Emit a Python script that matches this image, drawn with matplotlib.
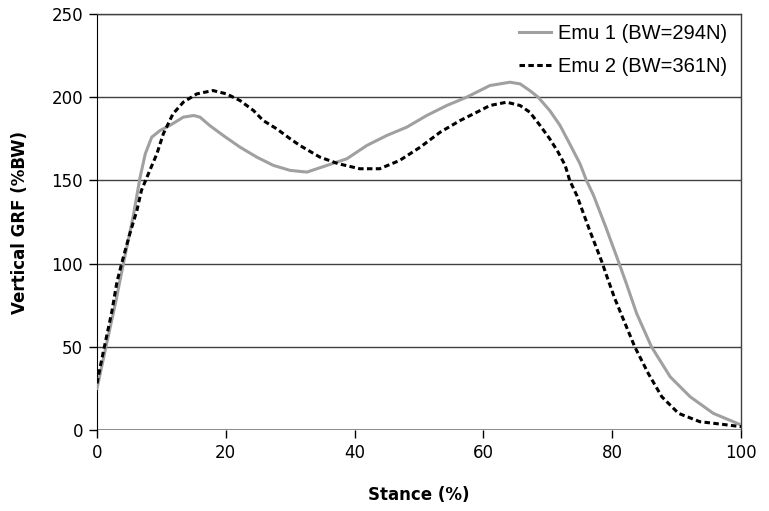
import matplotlib
matplotlib.use("Agg")
from matplotlib import pyplot as plt

# Emu 1 (BW=294N) - solid grey
emu1_x = [0, 1.5, 2.8, 4.1, 5.6, 6.7, 7.5, 8.5, 9.8, 11.3, 13.4, 15, 16, 17.5,
          19.6, 22.2, 24.8, 27.4, 30, 32.6, 35.7, 38.8, 41.9, 45, 48.1, 51.2,
          54.3, 57.4, 61, 64.1, 65.7, 67.2, 68.5, 70.3, 71.9, 73.4, 75, 76,
          77.1, 79, 80.9, 82.2, 83.8, 86.1, 89, 92.1, 95.7, 98.8, 100]
emu1_y = [25, 52, 75, 100, 128, 152, 166, 176, 180, 183, 188, 189, 188, 183,
          177, 170, 164, 159, 156, 155, 159, 163, 171, 177, 182, 189,
          195, 200, 207, 209, 208, 204, 200, 192, 183, 172, 160, 150,
          141, 122, 102, 88, 70, 50, 32, 20, 10, 5, 3]

# Emu 2 (BW=361N) - black dashed
emu2_x = [0, 0.5, 1.2, 2.3, 3.1, 4.1, 5.1, 6.2, 6.9, 8.2, 9.3, 10.3, 11.8, 13.4,
          15.5, 18, 20.1, 22.2, 24.3, 25.8, 27.9, 30, 31.5, 34.6, 37.5, 40.8,
          43.9, 47, 50.2, 53.3, 56.4, 59.5, 61, 63.6, 65.7, 67.2, 68.8, 70.3,
          71.6, 72.7, 73.4, 74.5, 76.5, 78.4, 79.2, 80.4, 82, 83.5, 85.6, 87.7,
          90.3, 93.6, 96.7, 100]
emu2_y = [28, 38, 51, 71, 89, 104, 118, 132, 144, 156, 166, 178, 190, 197,
          202, 204, 202, 198, 192, 186, 181, 175, 171, 164, 160, 157,
          157, 162, 170, 179, 186, 192, 195, 197, 195, 191, 183, 175,
          167, 159, 150, 141, 120, 101, 92, 79, 64, 50, 34, 20,
          10, 5, 3.6, 2]

x_ticks = [0, 20, 40, 60, 80, 100]
y_ticks = [0, 50, 100, 150, 200, 250]

plt.rcParams["font.family"] = "DejaVu Sans"

fig = plt.figure(figsize=(7.69, 5.11), dpi=100)
ax = fig.add_axes([97 / 769, 1 - 430 / 511, 644 / 769, 416 / 511])

for yv in y_ticks[1:]:
    ax.axhline(yv, color="#404040", lw=1.0, zorder=1)
ax.axhline(0, color="#808080", lw=2.0, zorder=1)

ax.plot(emu1_x, emu1_y, color="#a0a0a0", lw=2.2, label="Emu 1 (BW=294N)", zorder=3)
ax.plot(emu2_x, emu2_y, color="black", lw=2.2, linestyle=(0, (1.8, 1.1)),
        label="Emu 2 (BW=361N)", zorder=4)

ax.set_xlim(0, 100)
ax.set_ylim(0, 250)
ax.set_xticks(x_ticks)
ax.set_yticks(y_ticks)
ax.tick_params(labelsize=12, length=6, width=1, colors="black", pad=4)

for s in ["top", "right"]:
    ax.spines[s].set_color("#404040")
    ax.spines[s].set_linewidth(1.0)
ax.spines["left"].set_color("black")
ax.spines["bottom"].set_visible(False)

ax.set_xlabel("Stance (%)", fontsize=12, fontweight="bold", labelpad=17)
ax.set_ylabel("Vertical GRF (%BW)", fontsize=12, fontweight="bold", labelpad=16)

leg = ax.legend(loc="upper right", bbox_to_anchor=(1.0, 1.01), frameon=False,
                prop={"family": "Liberation Sans", "size": 14.5},
                handlelength=1.6, labelspacing=0.7, handletextpad=0.35,
                borderaxespad=0.3)

fig.savefig("out.png", dpi=100)
